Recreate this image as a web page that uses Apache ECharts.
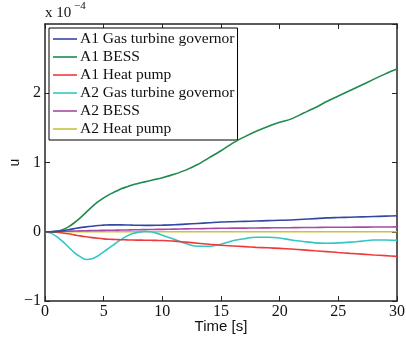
<!DOCTYPE html>
<html>
<head>
<meta charset="utf-8">
<script src="https://cdn.jsdelivr.net/npm/echarts@6/dist/echarts.min.js"></script>
<style>
  html, body { margin: 0; padding: 0; background: #fff; }
  #chart { width: 406px; height: 338px; }
</style>
</head>
<body>
<div id="chart"></div>
<script>
// Sample instants [s]
const timeS = [0, 0.5, 1, 1.5, 2, 2.5, 3, 3.5, 4, 4.5, 5, 5.5, 6, 6.5, 7, 7.5, 8, 8.5, 9, 9.5,
  10, 11, 12, 13, 14, 15, 16, 17, 18, 19, 20, 21, 22, 23, 24, 25, 26, 27, 28, 29, 30];

// Control signal u (units of 1e-4) per actuator
const a1Gov = [0, 0, 0.005, 0.015, 0.03, 0.045, 0.06, 0.07, 0.08, 0.09, 0.095, 0.1, 0.1, 0.1, 0.098, 0.095, 0.093, 0.092, 0.092, 0.093,
  0.095, 0.1, 0.11, 0.12, 0.13, 0.14, 0.145, 0.15, 0.155, 0.16, 0.165, 0.17, 0.18, 0.19, 0.2, 0.205, 0.21, 0.215, 0.22, 0.225, 0.23];
const a1Bess = [0, 0, 0.005, 0.03, 0.07, 0.13, 0.2, 0.28, 0.36, 0.43, 0.49, 0.54, 0.58, 0.62, 0.65, 0.68, 0.7, 0.72, 0.74, 0.76,
  0.78, 0.83, 0.89, 0.97, 1.07, 1.17, 1.28, 1.37, 1.45, 1.52, 1.58, 1.63, 1.71, 1.79, 1.88, 1.96, 2.04, 2.12, 2.2, 2.28, 2.35];
const a1Heat = [0, -0.002, -0.008, -0.018, -0.03, -0.045, -0.06, -0.073, -0.085, -0.095, -0.103, -0.108, -0.112, -0.115, -0.118, -0.12, -0.121, -0.122, -0.123, -0.125,
  -0.127, -0.135, -0.15, -0.165, -0.18, -0.195, -0.205, -0.215, -0.225, -0.232, -0.24, -0.25, -0.262, -0.275, -0.287, -0.3, -0.312, -0.323, -0.335, -0.345, -0.355];
const a2Gov = [0, -0.02, -0.07, -0.14, -0.22, -0.3, -0.36, -0.4, -0.39, -0.35, -0.29, -0.23, -0.17, -0.11, -0.06, -0.025, -0.005, 0.005, 0, -0.02,
  -0.05, -0.11, -0.17, -0.21, -0.21, -0.18, -0.13, -0.1, -0.08, -0.08, -0.09, -0.12, -0.14, -0.16, -0.165, -0.16, -0.15, -0.135, -0.12, -0.12, -0.125];
const a2Bess = [0, 0, 0.003, 0.005, 0.008, 0.01, 0.013, 0.015, 0.017, 0.019, 0.02, 0.022, 0.023, 0.025, 0.026, 0.028, 0.029, 0.031, 0.032, 0.034,
  0.035, 0.038, 0.041, 0.044, 0.047, 0.05, 0.052, 0.053, 0.055, 0.056, 0.058, 0.059, 0.061, 0.062, 0.064, 0.065, 0.066, 0.067, 0.068, 0.069, 0.07];
const a2Heat = timeS.map(() => 0);

const seriesNames = ['A1 Gas turbine governor', 'A1 BESS', 'A1 Heat pump',
  'A2 Gas turbine governor', 'A2 BESS', 'A2 Heat pump'];
const seriesValues = [a1Gov, a1Bess, a1Heat, a2Gov, a2Bess, a2Heat];
const seriesColors = ['#3248a2', '#1e8a4c', '#ef3a3c', '#33c6c6', '#a84aa8', '#c6c63c'];

const xTicks = { min: 0, max: 30, interval: 5 };
const yTicks = { min: -1, max: 3, interval: 1 };

const serif = '"Liberation Serif", "Times New Roman", serif';
const sans = '"Liberation Sans", Arial, sans-serif';
const frame = '#262626';

const chart = echarts.init(document.getElementById('chart'), null, { renderer: 'canvas' });

const tickStyle = { show: true, inside: true, length: 5, lineStyle: { color: frame, width: 1 } };
const lineStyle = { color: frame, width: 1.5 };

chart.setOption({
  animation: false,
  backgroundColor: '#fff',
  grid: { left: 45, right: 9, top: 24, bottom: 37, outerBoundsMode: 'none', containLabel: false },
  legend: {
    orient: 'vertical',
    left: 49,
    top: 28,
    padding: [3, 3, 3, 4],
    icon: 'rect',
    itemWidth: 24,
    itemHeight: 1.6,
    itemGap: 2,
    backgroundColor: '#fff',
    borderColor: '#000',
    borderWidth: 1,
    borderRadius: 0,
    textStyle: { fontFamily: serif, fontSize: 15.5, lineHeight: 14.1, color: '#111', padding: [0, 0, 0, -2] },
    data: seriesNames
  },
  xAxis: [{
    type: 'value', position: 'bottom', ...xTicks,
    name: 'Time [s]', nameLocation: 'middle', nameGap: 18, nameMoveOverlap: false,
    nameTextStyle: { fontFamily: sans, fontSize: 15, color: '#111' },
    axisLine: { show: true, onZero: false, lineStyle },
    axisTick: tickStyle,
    axisLabel: { fontFamily: serif, fontSize: 16, color: '#111', margin: 3 },
    splitLine: { show: false }
  }, {
    type: 'value', position: 'top', ...xTicks,
    axisLine: { show: true, onZero: false, lineStyle },
    axisTick: tickStyle,
    axisLabel: { show: false },
    splitLine: { show: false }
  }],
  yAxis: [{
    type: 'value', position: 'left', ...yTicks,
    name: 'u', nameLocation: 'middle', nameGap: 23, nameMoveOverlap: false,
    nameTextStyle: { fontFamily: sans, fontSize: 14, color: '#111' },
    axisLine: { show: true, onZero: false, lineStyle },
    axisTick: tickStyle,
    axisLabel: {
      fontFamily: serif, fontSize: 16, color: '#111', margin: 4, showMaxLabel: false,
      formatter: v => (v < 0 ? '\u2212' + Math.abs(v) : String(v))
    },
    splitLine: { show: false }
  }, {
    type: 'value', position: 'right', ...yTicks,
    axisLine: { show: true, onZero: false, lineStyle },
    axisTick: tickStyle,
    axisLabel: { show: false },
    splitLine: { show: false }
  }],
  graphic: [
    { type: 'text', left: 45, top: 6, style: { text: 'x 10', font: '15px ' + serif, fill: '#111' } },
    { type: 'text', left: 74, top: 1, style: { text: '\u22124', font: '11px ' + serif, fill: '#111' } }
  ],
  series: seriesNames.map((name, i) => ({
    name,
    type: 'line',
    xAxisIndex: 0,
    yAxisIndex: 0,
    showSymbol: false,
    symbol: 'none',
    smooth: 0.3,
    z: 2 + (seriesNames.length - i),
    lineStyle: { color: seriesColors[i], width: 1.6 },
    itemStyle: { color: seriesColors[i] },
    data: timeS.map((t, k) => [t, seriesValues[i][k]])
  }))
});
</script>
</body>
</html>
